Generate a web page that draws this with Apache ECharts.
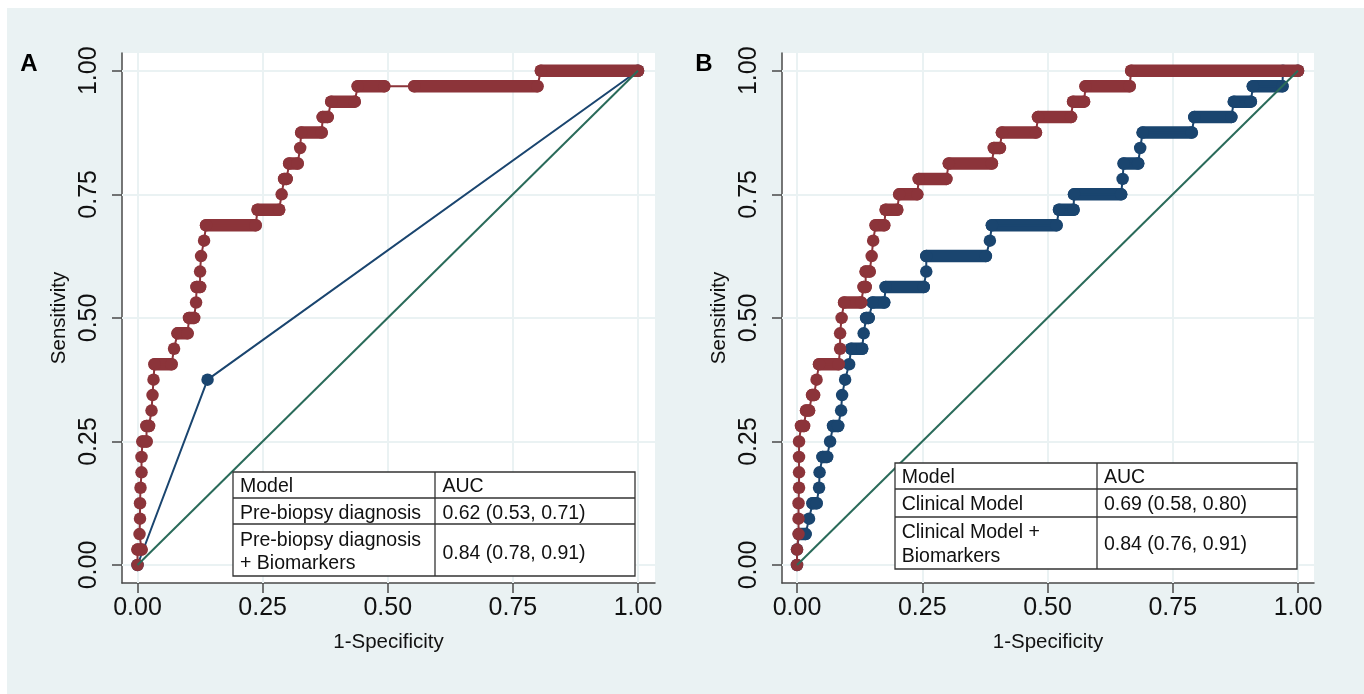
<!DOCTYPE html>
<html><head><meta charset="utf-8">
<script src="https://cdn.jsdelivr.net/npm/echarts@6/dist/echarts.min.js"></script>
<style>html,body{margin:0;padding:0;background:#fff;width:1364px;height:694px;overflow:hidden}
#c{position:absolute;left:7px;top:8px;width:1357px;height:686px}</style></head>
<body><div id="c"></div>
<script>
const tickValues = [0, 0.25, 0.5, 0.75, 1];
const tickLabels = ['0.00', '0.25', '0.50', '0.75', '1.00'];

// Panel A: Pre-biopsy diagnosis + Biomarkers (red)
const aRedTpr  = [0, 0.03125, 0.0625, 0.09375, 0.125, 0.15625, 0.1875, 0.21875, 0.25, 0.28125, 0.3125, 0.34375, 0.375, 0.40625, 0.4375, 0.46875, 0.5, 0.53125, 0.5625, 0.59375, 0.625, 0.65625, 0.6875, 0.71875, 0.75, 0.78125, 0.8125, 0.84375, 0.875, 0.90625, 0.9375, 0.96875, 0.96875, 1.0];
const aRedFrom = [0, 0, 0.004, 0.005, 0.005, 0.006, 0.008, 0.008, 0.010, 0.018, 0.028, 0.030, 0.032, 0.034, 0.073, 0.080, 0.103, 0.117, 0.118, 0.125, 0.127, 0.133, 0.137, 0.240, 0.288, 0.293, 0.303, 0.325, 0.327, 0.370, 0.387, 0.440, 0.553, 0.806];
const aRedTo   = [0, 0.008, 0.004, 0.005, 0.005, 0.006, 0.008, 0.008, 0.018, 0.023, 0.028, 0.030, 0.032, 0.068, 0.073, 0.100, 0.113, 0.117, 0.125, 0.125, 0.127, 0.133, 0.236, 0.283, 0.288, 0.298, 0.320, 0.325, 0.368, 0.380, 0.434, 0.493, 0.799, 1.0];
// Panel A: Pre-biopsy diagnosis (blue)
const aBlueTpr = [0, 0.375, 1];
const aBlueFpr = [0, 0.14, 1];

// Panel B: Clinical Model + Biomarkers (red)
const bRedTpr  = [0, 0.03125, 0.0625, 0.09375, 0.125, 0.15625, 0.1875, 0.21875, 0.25, 0.28125, 0.3125, 0.34375, 0.375, 0.40625, 0.4375, 0.46875, 0.5, 0.53125, 0.5625, 0.59375, 0.625, 0.65625, 0.6875, 0.71875, 0.75, 0.78125, 0.8125, 0.84375, 0.875, 0.90625, 0.9375, 0.96875, 1.0];
const bRedFrom = [0, 0, 0.003, 0.003, 0.003, 0.004, 0.004, 0.004, 0.004, 0.008, 0.018, 0.030, 0.039, 0.044, 0.086, 0.086, 0.089, 0.094, 0.133, 0.137, 0.149, 0.152, 0.157, 0.177, 0.204, 0.243, 0.303, 0.393, 0.409, 0.481, 0.551, 0.576, 0.667];
const bRedTo   = [0, 0, 0.003, 0.003, 0.003, 0.004, 0.004, 0.004, 0.004, 0.014, 0.024, 0.034, 0.039, 0.083, 0.086, 0.086, 0.089, 0.128, 0.137, 0.145, 0.149, 0.152, 0.174, 0.200, 0.240, 0.298, 0.389, 0.405, 0.477, 0.547, 0.573, 0.664, 1.0];
// Panel B: Clinical Model (blue)
const bBlueTpr  = [0, 0.03125, 0.0625, 0.09375, 0.125, 0.15625, 0.1875, 0.21875, 0.25, 0.28125, 0.3125, 0.34375, 0.375, 0.40625, 0.4375, 0.46875, 0.5, 0.53125, 0.5625, 0.59375, 0.625, 0.65625, 0.6875, 0.71875, 0.75, 0.78125, 0.8125, 0.84375, 0.875, 0.90625, 0.9375, 0.96875, 1.0, 1.0];
const bBlueFrom = [0, 0, 0.004, 0.024, 0.031, 0.044, 0.045, 0.051, 0.066, 0.072, 0.088, 0.090, 0.096, 0.104, 0.108, 0.133, 0.138, 0.151, 0.177, 0.258, 0.258, 0.385, 0.389, 0.523, 0.553, 0.650, 0.652, 0.685, 0.690, 0.793, 0.872, 0.910, 0.970, 1.0];
const bBlueTo   = [0, 0, 0.017, 0.024, 0.039, 0.044, 0.045, 0.060, 0.066, 0.082, 0.088, 0.090, 0.096, 0.104, 0.130, 0.133, 0.143, 0.174, 0.253, 0.258, 0.377, 0.385, 0.518, 0.552, 0.647, 0.650, 0.681, 0.685, 0.788, 0.867, 0.906, 0.969, 0.970, 1.0];

// Reference diagonal
const diagX = [0, 1];
const diagY = [0, 1];

const tableA = { header: ['Model', 'AUC'], rows: [[['Pre-biopsy diagnosis'], '0.62 (0.53, 0.71)'], [['Pre-biopsy diagnosis', '+ Biomarkers'], '0.84 (0.78, 0.91)']] };
const tableB = { header: ['Model', 'AUC'], rows: [[['Clinical Model'], '0.69 (0.58, 0.80)'], [['Clinical Model +', 'Biomarkers'], '0.84 (0.76, 0.91)']] };

const RED = '#8C343A', BLUE = '#1A456F', GREEN = '#2A6B5A', BG = '#EAF2F3', AX = '#4a4a4a', TXT = '#111';
const FONT = '"Liberation Sans", Arial, Helvetica, sans-serif';
const DOT = 12.5;

function stepPoints(tpr, from, to) {
  const pts = [];
  for (let i = 0; i < tpr.length; i++) {
    pts.push([from[i], tpr[i]]);
    if (to[i] > from[i]) pts.push([to[i], tpr[i]]);
  }
  return pts;
}
function runs(tpr, from, to) {
  return tpr.map((t, i) => [from[i], to[i], t]).filter(r => r[1] > r[0]);
}
function bandSeries(idx, data, color, z) {
  return {
    type: 'custom', xAxisIndex: idx, yAxisIndex: idx, z: z, silent: true,
    data: data, encode: { x: [0, 1], y: 2 },
    renderItem: function (params, api) {
      const p1 = api.coord([api.value(0), api.value(2)]);
      const p2 = api.coord([api.value(1), api.value(2)]);
      return { type: 'line', shape: { x1: p1[0], y1: p1[1], x2: p2[0], y2: p2[1] },
        style: { stroke: color, lineWidth: DOT, lineCap: 'round' } };
    }
  };
}
function lineSeries(idx, data, color, z, withSymbol) {
  return {
    type: 'line', xAxisIndex: idx, yAxisIndex: idx, z: z, silent: true,
    data: data, showSymbol: withSymbol, showAllSymbol: true, symbol: 'circle', symbolSize: DOT,
    itemStyle: { color: color }, lineStyle: { color: color, width: withSymbol ? 2 : 2 }
  };
}
function gridSeries(idx) {
  const md = tickValues.map(v => ({ xAxis: v })).concat(tickValues.map(v => ({ yAxis: v })));
  return {
    type: 'line', xAxisIndex: idx, yAxisIndex: idx, z: 1, silent: true, data: [[0, 0]],
    showSymbol: false, lineStyle: { opacity: 0 },
    markLine: { silent: true, z: 1, symbol: ['none', 'none'], label: { show: false },
      lineStyle: { color: BG, width: 2, type: 'solid' }, data: md, animation: false }
  };
}
function fmt(v) { const i = tickValues.indexOf(v); return i >= 0 ? tickLabels[i] : v.toFixed(2); }
function xAx(idx, min, max) {
  return {
    type: 'value', gridIndex: idx, min: min, max: max,
    axisLine: { show: true, onZero: false, lineStyle: { color: AX, width: 1.5 } },
    axisTick: { show: true, customValues: tickValues, length: 10, lineStyle: { color: AX, width: 1.5 } },
    axisLabel: { customValues: tickValues, formatter: fmt, fontSize: 25, color: TXT, margin: 13, fontFamily: FONT },
    splitLine: { show: false },
    name: '1-Specificity', nameLocation: 'middle', nameGap: 49,
    nameTextStyle: { fontSize: 20.5, color: TXT, fontFamily: FONT }
  };
}
function yAx(idx) {
  return {
    type: 'value', gridIndex: idx, min: -0.0364, max: 1.036,
    axisLine: { show: true, onZero: false, lineStyle: { color: AX, width: 1.5 } },
    axisTick: { show: true, customValues: tickValues, length: 10, lineStyle: { color: AX, width: 1.5 } },
    axisLabel: { customValues: tickValues, formatter: fmt, fontSize: 25, color: TXT, margin: 20, rotate: 90, fontFamily: FONT },
    splitLine: { show: false },
    name: 'Sensitivity', nameLocation: 'middle', nameGap: 52,
    nameTextStyle: { fontSize: 20.5, color: TXT, fontFamily: FONT }
  };
}
function table(t, x0, y0, x1, y1, colX, rowYs, textX, textYs, valYs) {
  const els = [];
  els.push({ type: 'rect', shape: { x: x0, y: y0, width: x1 - x0, height: y1 - y0 },
    style: { fill: '#fff', stroke: '#333', lineWidth: 1.3 }, z: 100 });
  els.push({ type: 'line', shape: { x1: colX, y1: y0, x2: colX, y2: y1 }, style: { stroke: '#333', lineWidth: 1.3 }, z: 101 });
  rowYs.forEach(ry => els.push({ type: 'line', shape: { x1: x0, y1: ry, x2: x1, y2: ry }, style: { stroke: '#333', lineWidth: 1.3 }, z: 101 }));
  const ts = (txt, x, y) => ({ type: 'text', x: x, y: y, z: 102,
    style: { text: txt, fill: TXT, fontSize: 19.5, fontFamily: FONT, verticalAlign: 'middle', align: 'left' } });
  els.push(ts(t.header[0], textX[0], textYs[0][0]));
  els.push(ts(t.header[1], textX[1], valYs[0]));
  t.rows.forEach((r, i) => {
    r[0].forEach((line, j) => els.push(ts(line, textX[0], textYs[i + 1][j])));
    els.push(ts(r[1], textX[1], valYs[i + 1]));
  });
  return els;
}

const chart = echarts.init(document.getElementById('c'), null, { renderer: 'canvas' });
const graphics = []
  .concat([{ type: 'text', x: 22, y: 56, z: 100, style: { text: 'A', fill: '#000', fontSize: 24, fontWeight: 'bold', fontFamily: FONT, align: 'center', verticalAlign: 'middle' } },
           { type: 'text', x: 697, y: 56, z: 100, style: { text: 'B', fill: '#000', fontSize: 24, fontWeight: 'bold', fontFamily: FONT, align: 'center', verticalAlign: 'middle' } }])
  .concat(table(tableA, 226, 464, 628, 568, 428, [490, 516], [233, 435.5], [[479], [505.3], [532.7, 555.3]], [479, 505.3, 546]))
  .concat(table(tableB, 888, 455, 1290, 561, 1090, [481, 509], [894.7, 1097], [[469.3], [497], [524.7, 548.7]], [469.3, 497, 537]));

chart.setOption({
  animation: false,
  backgroundColor: BG,
  grid: [
    { left: 115, top: 45, width: 533, height: 530, show: true, backgroundColor: '#fff', borderWidth: 0 },
    { left: 775, top: 45, width: 532, height: 530, show: true, backgroundColor: '#fff', borderWidth: 0 }
  ],
  xAxis: [xAx(0, -0.031, 1.034), xAx(1, -0.030, 1.032)],
  yAxis: [yAx(0), yAx(1)],
  series: [
    gridSeries(0),
    lineSeries(0, aBlueFpr.map((x, i) => [x, aBlueTpr[i]]), BLUE, 3, true),
    bandSeries(0, runs(aRedTpr, aRedFrom, aRedTo), RED, 4),
    lineSeries(0, stepPoints(aRedTpr, aRedFrom, aRedTo), RED, 5, true),
    lineSeries(0, diagX.map((x, i) => [x, diagY[i]]), GREEN, 6, false),
    gridSeries(1),
    bandSeries(1, runs(bBlueTpr, bBlueFrom, bBlueTo), BLUE, 3),
    lineSeries(1, stepPoints(bBlueTpr, bBlueFrom, bBlueTo), BLUE, 4, true),
    bandSeries(1, runs(bRedTpr, bRedFrom, bRedTo), RED, 5),
    lineSeries(1, stepPoints(bRedTpr, bRedFrom, bRedTo), RED, 6, true),
    lineSeries(1, diagX.map((x, i) => [x, diagY[i]]), GREEN, 7, false)
  ],
  graphic: graphics
});
</script></body></html>
